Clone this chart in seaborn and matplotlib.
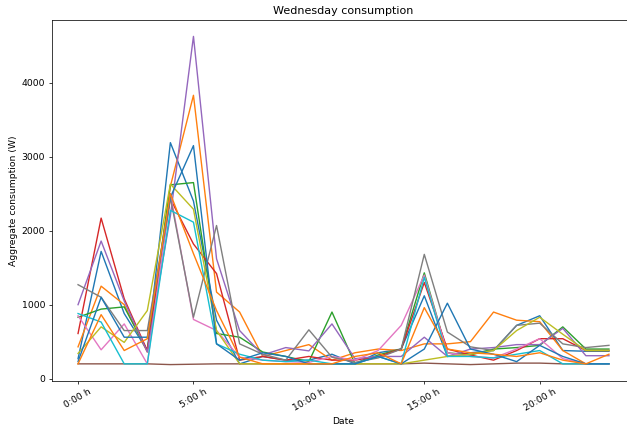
import matplotlib
matplotlib.use("Agg")
import matplotlib.pyplot as plt
import seaborn as sns
import pandas as pd
import numpy as np

# hourly aggregate consumption (W), one list per Wednesday
hours = list(range(24))

day_01 = [270, 1720, 880, 380, 3190, 2400, 790, 200, 300, 250, 250, 330,
          200, 350, 400, 1120, 300, 350, 380, 720, 850, 380, 370, 370]
day_02 = [430, 1250, 1000, 360, 2600, 3830, 1170, 900, 300, 380, 460, 250,
          350, 400, 380, 470, 470, 500, 900, 790, 770, 380, 200, 200]
day_03 = [830, 940, 970, 380, 2620, 2650, 610, 560, 360, 300, 230, 900,
          200, 320, 400, 1430, 350, 320, 400, 420, 450, 700, 400, 400]
day_04 = [610, 2170, 1080, 380, 2430, 1820, 1420, 250, 300, 250, 300, 250,
          250, 300, 400, 1300, 400, 320, 250, 380, 540, 540, 380, 380]
day_05 = [1000, 1860, 1050, 360, 2200, 4626, 1620, 650, 320, 420, 375, 740,
          270, 300, 300, 560, 300, 400, 420, 460, 460, 680, 310, 310]
day_06 = [200, 200, 200, 200, 190, 195, 200, 200, 200, 200, 200, 200,
          200, 200, 200, 210, 200, 190, 200, 210, 210, 200, 200, 200]
day_07 = [850, 390, 740, 200, 2500, 800, 650, 290, 250, 230, 220, 300,
          250, 380, 720, 1400, 350, 300, 280, 400, 540, 270, 200, 200]
day_08 = [1270, 1100, 650, 650, 2450, 830, 2070, 470, 330, 250, 660, 290,
          220, 280, 400, 1680, 630, 430, 380, 720, 750, 470, 420, 450]
day_09 = [340, 700, 490, 920, 2630, 2290, 650, 200, 200, 200, 200, 200,
          200, 200, 200, 250, 300, 330, 380, 650, 830, 600, 380, 380]
day_10 = [880, 765, 200, 200, 2275, 2115, 470, 330, 250, 230, 250, 200,
          200, 300, 200, 1370, 300, 300, 280, 330, 380, 200, 200, 200]
day_11 = [230, 1100, 560, 560, 2450, 3150, 470, 250, 350, 300, 200, 200,
          200, 300, 200, 400, 1020, 400, 330, 230, 450, 300, 200, 200]
day_12 = [200, 865, 380, 540, 2500, 1690, 920, 290, 200, 200, 200, 200,
          300, 350, 200, 960, 400, 350, 330, 300, 350, 250, 200, 330]

days = [day_01, day_02, day_03, day_04, day_05, day_06,
        day_07, day_08, day_09, day_10, day_11, day_12]

tick_hours = [0, 5, 10, 15, 20]
tick_labels = ['0:00 h', '5:00 h', '10:00 h', '15:00 h', '20:00 h']


def build_frame():
	rows = []
	for i, d in enumerate(days):
		for h, v in zip(hours, d):
			rows.append({'hour': h, 'W': v, 'day': 'd%02d' % i})
	return pd.DataFrame(rows)


if __name__ == '__main__':
	dpi = 200 / 3
	fig = plt.figure(figsize=(627 / dpi, 431 / dpi), dpi=dpi)
	ax = fig.add_axes([51.5 / 627, 50 / 431, 584 / 627, 361 / 431])

	df = build_frame()
	tab = sns.color_palette('tab10')
	palette = [tab[i % 10] for i in range(len(days))]
	sns.lineplot(data=df, x='hour', y='W', hue='day', palette=palette,
				 legend=False, ax=ax, linewidth=1.5)

	ax.set_xticks(tick_hours)
	ax.set_xticklabels(tick_labels, rotation=30)
	ax.set_yticks(np.arange(0, 4001, 1000))
	ax.set_xlabel('Date')
	ax.set_ylabel('Aggregate consumption (W)')
	ax.set_title('Wednesday consumption')

	fig.savefig('out.png', dpi=dpi)
